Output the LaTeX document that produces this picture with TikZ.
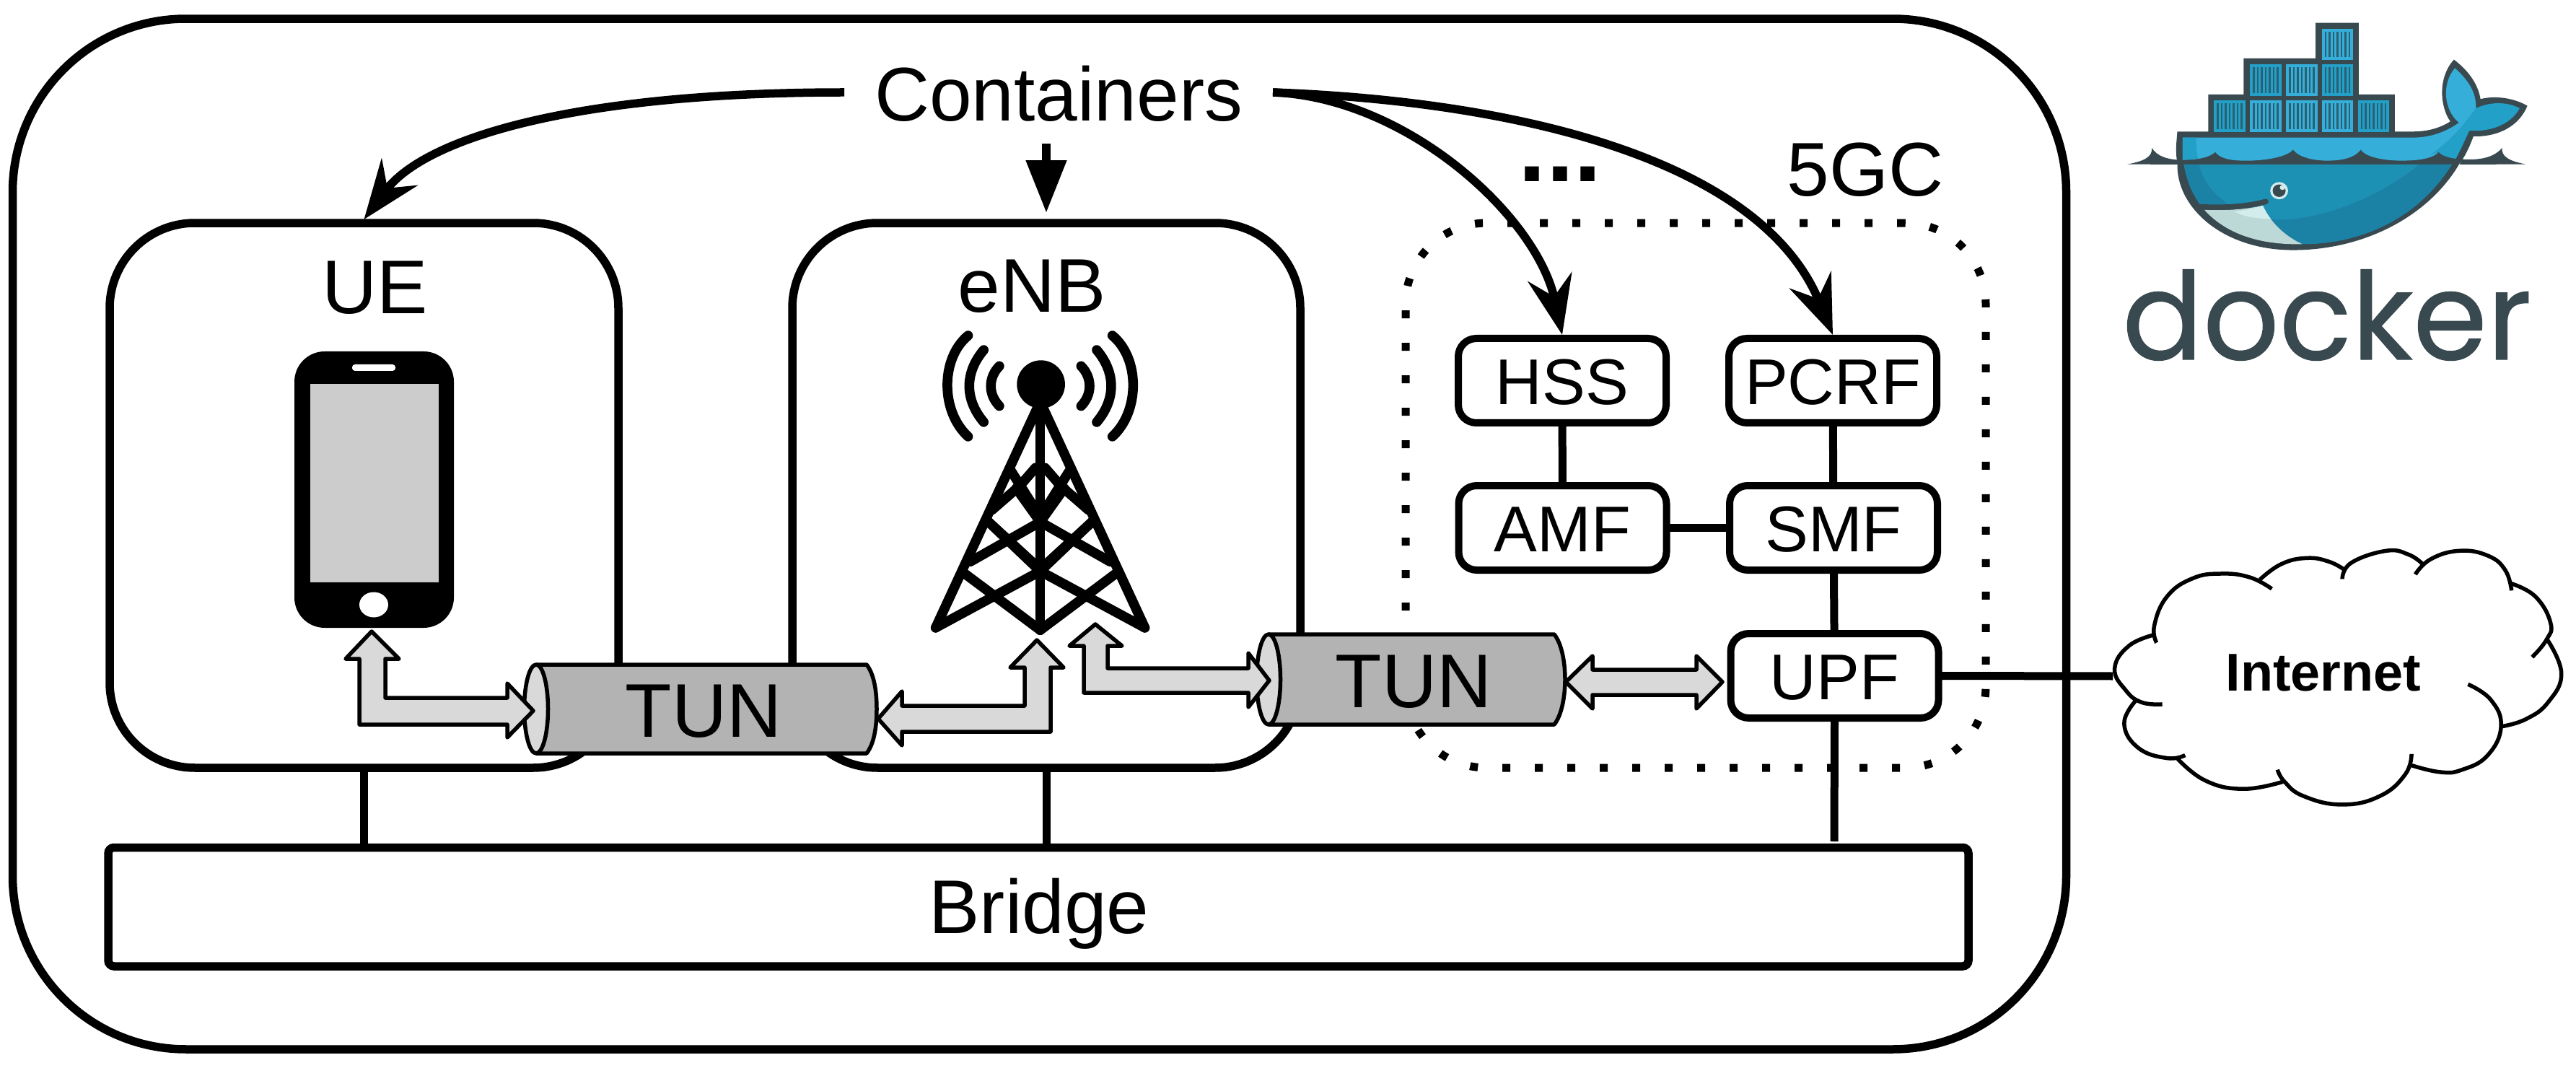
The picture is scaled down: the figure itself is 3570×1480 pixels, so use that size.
\documentclass[tikz,border=0pt]{standalone}
\usepackage{fontspec}
\setmainfont{Liberation Sans}
\newfontfamily\dockerfont[FakeStretch=0.98,FakeBold=0.6]{Poppins}
\usetikzlibrary{arrows.meta}
\definecolor{whaledark}{HTML}{394950}
\definecolor{whalelight}{HTML}{35AEDA}
\definecolor{whalemid}{HTML}{22A0C8}
\definecolor{whalewater}{HTML}{1D91B4}
\definecolor{whaledeep}{HTML}{1B81A5}
\definecolor{whalebelly}{HTML}{BDD9D7}
\definecolor{whalepale}{HTML}{D3ECEC}
\definecolor{whalebar}{HTML}{2A6072}
\definecolor{tunbody}{HTML}{B3B3B3}
\definecolor{blockgrey}{HTML}{D9D9D9}
\definecolor{screengrey}{HTML}{CCCCCC}
\tikzset{
  bigtext/.style={font=\fontsize{30}{36}\selectfont,inner sep=0pt,outer sep=0pt},
  corebox/.style={draw=black,fill=white,line width=1mm,rounded corners=2.5mm,minimum width=28.8mm,minimum height=11.7mm,inner sep=0pt,outer sep=0pt,font=\fontsize{25.5}{30}\selectfont,text height=6.5mm,text depth=0pt},
  outerbox/.style={draw=black,line width=1.15mm,inner sep=0pt,outer sep=0pt},
  link/.style={line width=1.1mm},
  container arrow/.style={line width=1.15mm,-{Stealth[length=8.2mm,width=6.2mm,inset=2.8mm]}},
  block/.style={draw=black,fill=blockgrey,line width=0.55mm,line join=round},
  tunline/.style={draw=black,line width=0.55mm,line join=round},
  cloudline/.style={line width=0.55mm},
  towerline/.style={line width=1.35mm,line cap=round,line join=round},
}
\begin{document}
\begin{tikzpicture}[x=0.1mm,y=-0.1mm]
\useasboundingbox (0,0) rectangle (3570,1480);
% ---- large frames
\node[outerbox,rounded corners=24mm,minimum width=284.6mm,minimum height=142.8mm] (host) at (1440.5,740) {};
\node[outerbox,rounded corners=11.8mm,minimum width=70.5mm,minimum height=75.5mm] (ue) at (504.5,686.5) {};
\node[outerbox,rounded corners=11.8mm,minimum width=70.4mm,minimum height=75.5mm] (enb) at (1450,686.5) {};
\node[outerbox,rounded corners=0.8mm,minimum width=257.8mm,minimum height=16.45mm] (bridge) at (1439,1256.75) {};
\node[bigtext,anchor=base] (bridgelabel) at (1440,1293) {Bridge};
\node[bigtext,anchor=base] (uelabel) at (520,435) {UE};
\node[bigtext,anchor=base] (enblabel) at (1430,433) {eNB};
% ---- 5GC frame
\node[draw=black,line width=1.1mm,dash pattern=on 1.1mm off 3.4mm,rounded corners=11.2mm,minimum width=80.4mm,minimum height=75.5mm,inner sep=0pt,outer sep=0pt] (core) at (2350,686.5) {};
\node[bigtext,anchor=base] (corelabel) at (2585,272) {5GC};
\node[anchor=base,inner sep=0pt,font=\fontsize{39}{40}\selectfont\bfseries] (more) at (2162,252) {...};
% ---- core functions
\node[corebox] (hss) at (2165,527.5) {HSS};
\node[corebox] (pcrf) at (2540,527.5) {PCRF};
\node[corebox] (amf) at (2165.5,731.5) {AMF};
\node[corebox] (smf) at (2541,731.5) {SMF};
\node[corebox] (upf) at (2542.5,936.5) {UPF};
\draw[link] (hss) -- (amf);
\draw[link] (pcrf) -- (smf);
\draw[link] (amf) -- (smf);
\draw[link] (smf) -- (upf);
% ---- bridge links
\coordinate (upfend) at (2542,1166);
\coordinate (cloudleft) at (2928,937);
\draw[link] (ue.south) -- (ue.south |- bridge.north);
\draw[link] (enb.south) -- (enb.south |- bridge.north);
\draw[link] (upf.south) -- (upfend);
\draw[link] (upf.east) -- (cloudleft);
% ---- Containers
\node[bigtext,inner xsep=4.7mm,anchor=base] (containers) at (1467,168) {Containers};
\coordinate (cleft) at (1170,128);
\coordinate (cright) at (1764,128);
\coordinate (cdown) at (1450,199);
\draw[container arrow] (cleft) .. controls (800,128) and (590,190) .. ([yshift=0.5mm]ue.north);
\draw[line width=1.15mm,-{Stealth[length=7.3mm,width=5.4mm,inset=0mm]}] (cdown) -- ([yshift=1.4mm]enb.north);
\draw[container arrow] (cright) .. controls (1950,135) and (2130,300) .. ([yshift=0.5mm]hss.north);
\draw[container arrow] (cright) .. controls (2100,140) and (2440,220) .. ([yshift=0.5mm]pcrf.north);
% ---- phone
\fill[black,rounded corners=4.2mm] (408,487) rectangle (629,870);
\fill[screengrey] (430,532) rectangle (608,807);
\fill[white,rounded corners=0.4mm] (488,505) rectangle (548,514);
\fill[white] (518,838) ellipse [x radius=20,y radius=17.5];
% ---- tower
\begin{scope}[shift={(1250,430)},x=0.03333mm,y=-0.03333mm]
\fill (578,308) circle (100);
\foreach \m in {1,-1}{
 \begin{scope}[xshift=575*0.03333mm,x={(\m*0.03333mm,0)}]
  \draw[towerline] (-300,105) .. controls (-415,200) and (-415,420) .. (-300,525);
  \draw[towerline] (-235,165) .. controls (-315,260) and (-315,370) .. (-235,465);
  \draw[towerline] (-170,232) .. controls (-217,280) and (-217,350) .. (-170,398);
  \draw[towerline] (0,380) -- (-435,1320);
  \draw[towerline] (-435,1320) -- (0,1085) -- (215,880);
  \draw[towerline] (0,1330) -- (-310,1098);
  \draw[towerline] (-290,1045) -- (0,880) -- (100,740);
  \draw[towerline] (-215,880) -- (-30,1050);
  \draw[towerline] (-200,830) -- (-85,730) -- (-20,655);
  \draw[towerline] (-120,670) -- (0,860);
 \end{scope}
}
\draw[towerline] (575,400) -- (575,1330);
\end{scope}
% ---- tunnels
\path[fill=tunbody,tunline] (743,921) -- (1201,921) .. controls (1212,935) and (1215,960) .. (1215,982.5) .. controls (1215,1005) and (1212,1030) .. (1201,1044) -- (743,1044);
\path[fill=blockgrey,tunline] (743,982.5) ellipse [x radius=16.5,y radius=61.5];
\node[bigtext,anchor=base] (tuna) at (975,1021) {TUN};
\path[fill=tunbody,tunline] (1758,879) -- (2154,879) .. controls (2165,893) and (2169,920) .. (2169,941.5) .. controls (2169,963) and (2165,990) .. (2154,1004) -- (1758,1004);
\path[fill=blockgrey,tunline] (1758,941.5) ellipse [x radius=16.5,y radius=62.5];
\node[bigtext,anchor=base] (tunb) at (1959,980) {TUN};
% ---- block arrows
\draw[block] (515,875) -- (553,913) -- (534,913) -- (534,967) -- (703,967) -- (703,947) -- (739,985) -- (703,1022) -- (703,1004) -- (498,1004) -- (498,913) -- (479,913) -- cycle;
\draw[block] (1437,887) -- (1474,925) -- (1456,925) -- (1456,1014) -- (1250,1014) -- (1250,1033) -- (1217,996) -- (1250,958) -- (1250,978) -- (1420,978) -- (1420,925) -- (1400,925) -- cycle;
\draw[block] (1518,865) -- (1555,895) -- (1535,895) -- (1535,926) -- (1730,926) -- (1730,905) -- (1759,943) -- (1730,980) -- (1730,960) -- (1502,960) -- (1502,895) -- (1482,895) -- cycle;
\draw[block] (2170,945) -- (2207,909) -- (2207,928) -- (2351,928) -- (2351,909) -- (2387,945) -- (2351,982) -- (2351,963) -- (2207,963) -- (2207,982) -- cycle;
% ---- cloud
\node[anchor=base,inner sep=0pt,font=\fontsize{21}{24}\selectfont\bfseries] (internet) at (3220,957) {Internet};
\begin{scope}[shift={(2880,740)},x=0.04401mm,y=-0.03333mm]
\draw[cloudline] plot[smooth,tension=0.75] coordinates {(243,418) (160,465) (115,560) (150,650) (200,700) (265,708)};
\draw[cloudline] plot[smooth,tension=0.75] coordinates {(247,452) (240,380) (280,260) (360,185) (450,165) (540,180) (610,228)};
\draw[cloudline] plot[smooth,tension=0.75] coordinates {(572,190) (640,125) (720,100) (790,115) (840,150)};
\draw[cloudline] plot[smooth,tension=0.75] coordinates {(832,187) (860,120) (970,70) (1040,85) (1085,125)};
\draw[cloudline] plot[smooth,tension=0.75] coordinates {(1062,168) (1110,105) (1200,70) (1290,90) (1345,150) (1365,235)};
\draw[cloudline] plot[smooth,tension=0.75] coordinates {(1362,205) (1440,260) (1488,370) (1475,440) (1430,512)};
\draw[cloudline] plot[smooth,tension=0.75] coordinates {(1478,440) (1522,580) (1480,700) (1410,770) (1335,800)};
\draw[cloudline] plot[smooth,tension=0.75] coordinates {(1228,625) (1300,690) (1332,800) (1290,920) (1210,980) (1140,990) (1045,960)};
\draw[cloudline] plot[smooth,tension=0.75] coordinates {(1050,915) (1030,1000) (950,1090) (830,1125) (710,1090) (650,1030) (628,980)};
\draw[cloudline] plot[smooth,tension=0.75] coordinates {(645,1030) (520,1060) (400,1025) (310,930)};
\draw[cloudline] plot[smooth,tension=0.75] coordinates {(337,920) (280,932) (190,890) (145,790) (180,695)};
\end{scope}
% ---- docker logo
\begin{scope}[shift={(2900,0)},x=0.04274mm,y=-0.03333mm]
\fill[whaledark] (113,683) .. controls (170,670) and (195,650) .. (192,615) .. controls (210,650) and (240,662) .. (280,665) -- (280,684) -- cycle;
\fill[whaledark] (1405,683) .. controls (1350,670) and (1325,650) .. (1328,615) .. controls (1305,650) and (1265,668) .. (1198,662) -- (1190,684) -- cycle;
\fill[whaledark] (275,547) -- (375,547) -- (375,393) -- (490,393) -- (490,243) -- (723,243) -- (723,95) -- (863,95) -- (863,393) -- (980,393) -- (980,547) -- (1040,547) .. controls (1090,547) and (1130,530) .. (1160,505) .. controls (1125,440) and (1120,320) .. (1172,248) .. controls (1220,295) and (1250,350) .. (1258,412) .. controls (1310,395) and (1370,410) .. (1410,440) .. controls (1385,520) and (1320,570) .. (1235,567) .. controls (1220,620) and (1205,655) .. (1190,680) .. controls (1090,900) and (880,1040) .. (650,1040) .. controls (420,1040) and (270,860) .. (275,680) .. controls (268,630) and (272,590) .. (275,547) -- cycle;
\foreach \cx/\cy/\cc in {393/418/whalemid,510/418/whalelight,627/418/whalelight,743/418/whalelight,860/418/whalemid,510/268/whalemid,627/268/whalelight,743/268/whalemid,743/120/whalelight}{
 \fill[\cc] (\cx,\cy) rectangle ++(102,130);
 \foreach \i in {0,...,6}{ \fill[whalebar] ({\cx+10+\i*12.8},{\cy+12}) rectangle ++(6,106); }
}
\fill[whalemid] (1243,450) .. controls (1285,425) and (1340,420) .. (1385,450) .. controls (1360,510) and (1300,550) .. (1222,543) .. controls (1210,575) and (1195,620) .. (1178,660) .. controls (1150,655) and (1130,645) .. (1122,632) -- (1095,645) .. controls (1150,595) and (1200,530) .. (1243,450) -- cycle;
\fill[whalelight] (292,572) -- (1040,572) .. controls (1100,572) and (1150,545) .. (1188,510) .. controls (1140,460) and (1130,350) .. (1175,283) .. controls (1215,330) and (1245,380) .. (1243,450) .. controls (1200,530) and (1150,595) .. (1095,645) -- (1122,632) .. controls (1100,665) and (1040,668) .. (1000,668) .. controls (950,668) and (885,655) .. (870,622) .. controls (845,665) and (790,668) .. (760,668) .. controls (710,668) and (665,650) .. (650,622) .. controls (630,655) and (550,670) .. (490,668) .. controls (440,668) and (410,655) .. (398,632) .. controls (380,655) and (340,665) .. (292,665) -- cycle;
\fill[whalemid] (292,572) -- (336,572) .. controls (335,600) and (338,640) .. (342,660) -- (292,665) -- cycle;
\fill[whalewater] (296,684) -- (1165,684) .. controls (1060,900) and (880,1015) .. (680,1015) .. controls (620,980) and (575,920) .. (552,855) .. controls (490,872) and (420,875) .. (362,870) .. controls (330,810) and (305,750) .. (296,684) -- cycle;
\fill[whaledeep] (1060,684) -- (1165,684) .. controls (1060,900) and (880,1015) .. (680,1015) .. controls (630,985) and (600,950) .. (578,912) .. controls (700,925) and (900,850) .. (1060,684) -- cycle;
\fill[whaledeep] (296,684) -- (345,684) .. controls (360,760) and (395,810) .. (440,850) -- (348,850) .. controls (320,800) and (305,750) .. (296,684) -- cycle;
\fill[whalebelly] (362,872) .. controls (420,877) and (490,872) .. (552,855) .. controls (575,920) and (620,980) .. (680,1015) .. controls (540,1020) and (430,970) .. (362,872) -- cycle;
\fill[whalepale] (460,880) .. controls (490,875) and (520,868) .. (552,855) .. controls (560,875) and (568,895) .. (578,910) .. controls (530,910) and (490,900) .. (460,880) -- cycle;
\draw[whaledark,line width=0.75mm,line cap=round] (350,860) .. controls (430,865) and (500,860) .. (562,838);
\fill[whalepale] (605,793) ellipse [x radius=29,y radius=36];
\fill[whaledark] (605,793) ellipse [x radius=21,y radius=26];
\fill[whalepale] (616,780) ellipse [x radius=9,y radius=10];
\node[anchor=base,inner sep=0pt,text=whaledark,font=\dockerfont\fontsize{48}{60}\selectfont] (docker) at (760,1495) {docker};
\end{scope}
\end{tikzpicture}
\end{document}
